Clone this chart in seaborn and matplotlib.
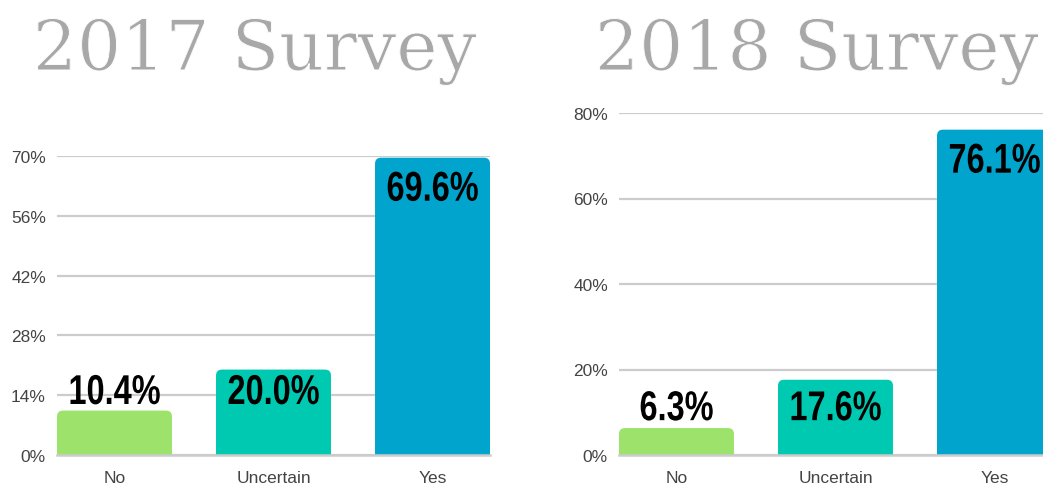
import matplotlib
matplotlib.use("Agg")
import matplotlib.pyplot as plt
import seaborn as sns
import pandas as pd
from matplotlib.patches import FancyBboxPatch
from matplotlib.patheffects import AbstractPathEffect, Normal, Stroke
from matplotlib.transforms import Affine2D

categories = ["No", "Uncertain", "Yes"]
values_2017 = [10.4, 20.0, 69.6]
values_2018 = [6.3, 17.6, 76.1]
ticks_2017 = [0, 14, 28, 42, 56, 70]
ticks_2018 = [0, 20, 40, 60, 80]
titles = ["2017 Survey", "2018 Survey"]
colors = ["#9DE26A", "#00C9B2", "#00A4CC"]

sns.set_style("white")
plt.rcParams["font.family"] = ["Liberation Sans", "DejaVu Sans"]

W, H = 1043, 485
fig = plt.figure(figsize=(W / 100, H / 100), dpi=100)


class HSqueeze(AbstractPathEffect):
    """Condense text horizontally about its own centre."""
    def __init__(self, sx):
        super().__init__()
        self.sx = sx
        self.text = None

    def draw_path(self, renderer, gc, tpath, affine, rgbFace=None):
        bb = self.text.get_window_extent(renderer)
        cx = 0.5 * (bb.x0 + bb.x1)
        t = affine + Affine2D().translate(-cx, 0).scale(self.sx, 1).translate(cx, 0)
        renderer.draw_path(gc, tpath, t, rgbFace)


def px_axes(x0, x1, ybot, ytop):
    return [x0 / W, (H - ybot) / H, (x1 - x0) / W, (ybot - ytop) / H]

ax1 = fig.add_axes(px_axes(57, 490, 456, 157))
ax2 = fig.add_axes(px_axes(619, 1043, 456, 114))

bw = 0.723
specs = [
    (ax1, values_2017, ticks_2017, (-bw / 2, 2 + bw / 2), 19.2),
    (ax2, values_2018, ticks_2018, (-bw / 2, 2.305), 15.4),
]

for ax, vals, ticks, xlim, floor in specs:
    df = pd.DataFrame({"cat": categories, "val": vals})
    sns.barplot(data=df, x="cat", y="val", hue="cat", palette=colors,
                legend=False, width=bw, ax=ax, zorder=3, saturation=1)
    ax.set_xlim(*xlim)
    ax.set_ylim(0, ticks[-1])
    ax.set_yticks(ticks)
    ax.set_yticklabels([f"{t}%" for t in ticks])
    ax.set_xlabel("")
    ax.set_ylabel("")
    ax.yaxis.grid(True, color="#cccccc", linewidth=1.6, zorder=0)
    ax.set_axisbelow(True)
    for s in ["top", "right", "left"]:
        ax.spines[s].set_visible(False)
    ax.spines["bottom"].set_color("#cccccc")
    ax.spines["bottom"].set_linewidth(1.8)
    ax.spines["bottom"].set_zorder(5)
    ax.tick_params(axis="both", length=0, labelsize=12.5, colors="#444444")
    ax.tick_params(axis="y", pad=8)
    ax.tick_params(axis="x", pad=10.5)

    bbox = ax.get_window_extent()
    xpp = (xlim[1] - xlim[0]) / bbox.width
    ypp = ticks[-1] / bbox.height
    aspect = ypp / xpp
    r = 6 * xpp
    for p in list(ax.patches):
        x, w, h = p.get_x(), p.get_width(), p.get_height()
        fc = p.get_facecolor()
        p.set_visible(False)
        rp = FancyBboxPatch((x, -ticks[-1] * 0.2), w, h + ticks[-1] * 0.2,
                            boxstyle=f"round,pad=0,rounding_size={r}",
                            mutation_aspect=aspect, facecolor=fc,
                            edgecolor="none", zorder=3)
        ax.add_patch(rp)

    gap = 12 * ypp
    for i, v in enumerate(vals):
        pe = HSqueeze(0.78)
        t = ax.text(i, max(v - gap, floor), f"{v:.1f}%", ha="center", va="top",
                    fontsize=30, fontweight="bold", color="black",
                    family=["Liberation Sans", "DejaVu Sans"], zorder=6,
                    clip_on=False, path_effects=[pe])
        pe.text = t

thin = [Normal(), Stroke(linewidth=0.7, foreground="white")]
for xc, title in zip([255, 817], titles):
    fig.text(xc / W, (H - 71) / H, title, ha="center", va="baseline",
             fontsize=50, color="#a8a8a8", family=["DejaVu Serif"],
             path_effects=thin)

fig.savefig("out.png", dpi=100)
